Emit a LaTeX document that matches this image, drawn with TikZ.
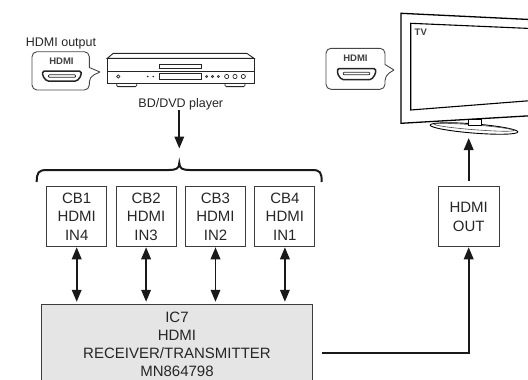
\documentclass[tikz,border=0pt]{standalone}
\usepackage{fontspec}
\setmainfont{Liberation Sans}
\usepackage{tikz}
\usetikzlibrary{arrows.meta, positioning, calc}
\definecolor{boxline}  {RGB}{ 60,  60,  60}
\definecolor{icfill}   {RGB}{229, 229, 229}
\definecolor{tagline}  {RGB}{ 70,  70,  70}

\begin{document}
\begin{tikzpicture}[x=1pt, y=-1pt,
	blk/.style={draw=boxline, line width=1.1pt, minimum width=60pt, minimum height=60pt,
		inner sep=0pt, align=center, text=black!85, font=\fontsize{15}{18.6}\selectfont},
	lbl/.style={text=black!85, inner sep=0pt, font=\fontsize{12.5}{15}\selectfont},
	tag/.style={text=black!75, inner sep=0pt, font=\fontsize{9.5}{11}\selectfont\bfseries},
	sig/.style={line width=1.9pt, draw=black!90},
	tip/.style={-{Triangle[length=12pt,width=9.5pt]}},
	twotip/.style={{Triangle[length=12pt,width=9.5pt]}-{Triangle[length=12pt,width=9.5pt]}}
]
	\clip (0,0) rectangle (528,380);

	% player with its HDMI tag
	\node[lbl, anchor=base] (outlabel) at (61,46) {HDMI output};
	\draw[tagline, line width=0.9pt] (100,72) -- (89.3,67.5) [rounded corners=5pt] -- (89.3,51.7)
		-- (32,51.7) -- (32,90) -- (89.3,90) -- (89.3,77) [sharp corners] -- (100,72);
	\node[tag] (outtag) at (61.5,61.5) {HDMI};
	\draw[black!85, line width=1.5pt, rounded corners=1.5pt]
		(42.7,71) -- (81,71) -- (81,76) -- (77,81) -- (46.7,81) -- (42.7,76) -- cycle;
	\draw[black!85, line width=0.8pt, rounded corners=0.8pt] (48.5,74.8) rectangle (75.5,77.3);

	\draw[black!85, line width=0.9pt, fill=white] (113.3,53.3) -- (246.7,53.3) -- (254,58.3) -- (107.3,58.3) -- cycle;
	\draw[black!85, line width=0.9pt, fill=white] (107.3,58.3) rectangle (254,83.3);
	\draw[black!85, line width=0.8pt] (107.3,71.7) -- (254,71.7);
	\draw[black!85, line width=0.8pt] (159.3,64) rectangle (201.7,68.3);
	\draw[black!85, line width=0.8pt] (159.3,73.3) rectangle (201.7,79.3);
	\draw[black!85, line width=0.7pt] (118.3,76.5) circle (1.6);
	\fill[black!85] (147.7,76.5) circle (0.9) (153.3,76.5) circle (0.9);
	\draw[black!85, line width=0.6pt] (206.7,76.5) circle (1.1) (212.5,76.5) circle (1.1) (218.3,76.5) circle (1.1);
	\draw[black!85, line width=0.7pt] (226.7,76.5) circle (2.1) (235,76.5) circle (2.1) (243.3,76.5) circle (2.1);
	\draw[black!85, line width=0.8pt, rounded corners=1.2pt] (116.7,83.3) -- (116.7,86.6) -- (136.7,86.6) -- (136.7,83.3);
	\draw[black!85, line width=0.8pt, rounded corners=1.2pt] (225,83.3) -- (225,86.6) -- (245,86.6) -- (245,83.3);
	\node[lbl, anchor=base] (bdlabel) at (180.8,107.5) {BD/DVD player};

	% TV with its HDMI tag
	\draw[tagline, line width=0.9pt] (394,70) -- (385,64.5) [rounded corners=5pt] -- (385,48.3)
		-- (326,48.3) -- (326,89.3) -- (385,89.3) -- (385,75.5) [sharp corners] -- (394,70);
	\node[tag] (intag) at (355.5,58.5) {HDMI};
	\draw[black!85, line width=1.5pt, rounded corners=1.5pt]
		(337.5,68.5) -- (375.5,68.5) -- (375.5,74) -- (371.5,79.5) -- (341.5,79.5) -- (337.5,74) -- cycle;
	\draw[black!85, line width=0.8pt, rounded corners=0.8pt] (343.3,72.3) rectangle (369.7,74.8);

	\draw[black, line width=1.3pt] (540,20) -- (401,13.3) -- (401,123.3) -- (540,115.2);
	\draw[black, line width=1.1pt] (540,28.9) -- (410.7,23.3) -- (410.7,110) -- (540,99.9);
	\node[tag] (tvlabel) at (420.8,32.5) {TV};
	\draw[black, line width=0.9pt, fill=white, rotate around={-4.5:(474,128.5)}]
		(474,128.5) ellipse [x radius=44, y radius=4.6];
	\draw[black!70, line width=0.6pt, rotate around={-4.5:(474,128.5)}]
		(474,127.3) ellipse [x radius=40, y radius=2.4];
	\draw[black, line width=0.9pt, fill=white] (468.3,119.3) rectangle (481.7,125.6);

	% bracket over the inputs
	\coordinate (bracetip) at (179.3,163);
	\draw[line width=2pt, black!90] (36.7,182) .. controls (36.7,172.5) and (38.5,170) .. (47,170)
		-- (169,170) .. controls (176,170) and (179.3,168.5) .. (bracetip)
		.. controls (179.3,168.5) and (182.6,170) .. (189.6,170)
		-- (312,170) .. controls (320.4,170) and (321.7,172.5) .. (321.7,182);
	\draw[sig, tip, shorten >=14.5pt] (bdlabel.south -| bracetip) -- (bracetip);

	% input and output blocks
	\node[blk] (cb1) at (76.7,216.7) {CB1\\HDMI\\IN4};
	\node[blk, right=8.3pt of cb1] (cb2) {CB2\\HDMI\\IN3};
	\node[blk, right=8.3pt of cb2] (cb3) {CB3\\HDMI\\IN2};
	\node[blk, right=8.3pt of cb3] (cb4) {CB4\\HDMI\\IN1};
	\node[blk, minimum width=60.7pt] (hdmiout) at (468.7,216.7) {HDMI\\OUT};

	\node[draw=boxline, fill=icfill, line width=1pt, minimum width=270.6pt, anchor=north,
		inner ysep=7.5pt, align=center, text=black!85, font=\fontsize{15}{18}\selectfont]
		(ic7) at (177,304.3) {IC7\\HDMI\\RECEIVER/TRANSMITTER\\MN864798};

	% links
	\draw[sig, twotip, shorten >=2.5pt] (cb1.south) -- (cb1.south |- ic7.north);
	\draw[sig, twotip, shorten >=2.5pt] (cb2.south) -- (cb2.south |- ic7.north);
	\draw[sig, twotip, shorten >=2.5pt] (cb3.south) -- (cb3.south |- ic7.north);
	\draw[sig, twotip, shorten >=2.5pt] (cb4.south) -- (cb4.south |- ic7.north);

	\coordinate (icout) at (321.7,353.3);
	\draw[sig, tip] (icout) -| (hdmiout.south);
	\coordinate (tvstand) at (468.7,133);
	\draw[sig, tip, shorten <=5pt, shorten >=5pt] (hdmiout.north) -- (hdmiout.north |- tvstand);
\end{tikzpicture}
\end{document}
